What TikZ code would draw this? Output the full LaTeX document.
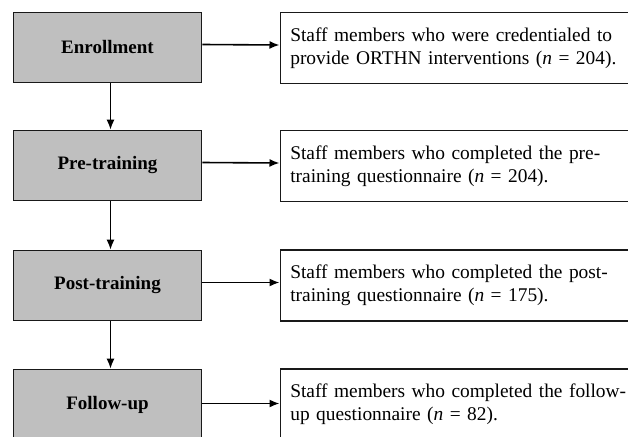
\documentclass[tikz,border=0pt]{standalone}
\usepackage{fontspec}
\setmainfont{Liberation Serif}
\usepackage{tikz}
\usetikzlibrary{arrows.meta}

\begin{document}
\begin{tikzpicture}
                        [
                            x=1pt, y=-1pt,
                            stagebox/.style = {draw=black!90, fill=black!25, shape=rectangle, minimum height=70pt, minimum width=188pt, line width=1.6pt, font=\fontsize{19}{23}\selectfont\bfseries},
                            notebox/.style = {draw=black!90, shape=rectangle, anchor=west, minimum height=71pt, text width=340pt, inner xsep=10pt, align=left, line width=1.6pt, font=\fontsize{19.4}{23}\selectfont},
                            link/.style = {-{Latex[length=10pt, width=8pt]}, line width=1.6pt},
                        ]

                        \useasboundingbox (0,0) rectangle (628,436);
                        \clip (0,0) rectangle (628,436);

                        \node[stagebox] (enroll) at (107.5,47.5)     {Enrollment};
                        \node[notebox] (enrollN) at (279.5,48)   {Staff members who were credentialed to\\provide ORTHN interventions (\textit{n} = 204).};

                        \node[stagebox] (pretrain) at (107.5,165.5)     {Pre-training};
                        \node[notebox] (pretrainN) at (279.5,166)   {Staff members who completed the pre-\\training questionnaire (\textit{n} = 204).};

                        \node[stagebox] (posttrain) at (107.5,285.5)     {Post-training};
                        \node[notebox] (posttrainN) at (279.5,285.5)   {Staff members who completed the post-\\training questionnaire (\textit{n} = 175).};

                        \node[stagebox] (followup) at (107.5,404.5)     {Follow-up};
                        \node[notebox] (followupN) at (279.5,404.5)   {Staff members who completed the follow-\\up questionnaire (\textit{n} = 82).};

                        \draw [link] ([yshift=3pt]enroll.east) -- ([yshift=3pt]enrollN.west);
                        \draw [link] ([yshift=3pt]pretrain.east) -- ([yshift=3pt]pretrainN.west);
                        \draw [link] ([yshift=3pt]posttrain.east) -- ([yshift=3pt]posttrainN.west);
                        \draw [link] ([yshift=1pt]followup.east) -- ([yshift=1pt]followupN.west);

                        \draw [link] ([xshift=3pt]enroll.south) -- ([xshift=3pt]pretrain.north);
                        \draw [link] ([xshift=3pt]pretrain.south) -- ([xshift=3pt]posttrain.north);
                        \draw [link] ([xshift=3pt]posttrain.south) -- ([xshift=3pt]followup.north);

                    \end{tikzpicture}
\end{document}
